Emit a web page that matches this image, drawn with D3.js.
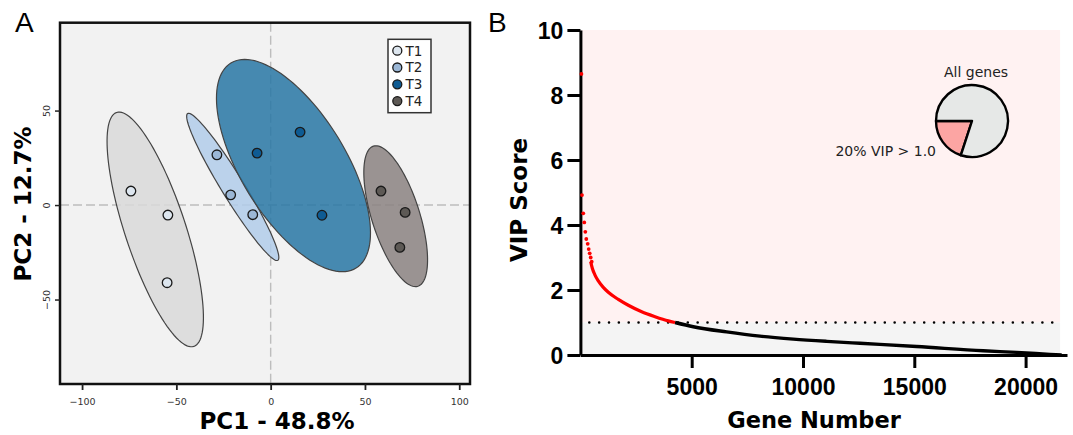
<!DOCTYPE html>
<html>
<head>
<meta charset="utf-8">
<title>PCA scores and VIP scores</title>
<script src="https://d3js.org/d3.v7.min.js"></script>
<style>
    body { margin: 0; background: white; }
    svg { display: block; }
    .tickA text { font-family: "DejaVu Sans", Verdana, sans-serif; font-size: 9.5px; fill: #333; }
    .tickB text { font-family: "Liberation Sans", Arial, sans-serif; font-size: 23px; font-weight: bold; fill: #000; }
    .title { font-family: "DejaVu Sans", Verdana, sans-serif; font-weight: bold; fill: #000; }
    .panel { font-family: "Liberation Sans", Arial, sans-serif; font-size: 28px; fill: #000; }
    .inset { font-family: "DejaVu Sans", Verdana, sans-serif; font-size: 14px; fill: #222; }
</style>
</head>
<body>
<div id="chart"></div>
<script>
// ---------- panel A : PCA scores ----------
var groups = ["T1", "T2", "T3", "T4"];
var pointGroup = ["T1", "T1", "T1", "T2", "T2", "T2", "T3", "T3", "T3", "T4", "T4", "T4"];
var pc1 = [-74.1, -54.5, -54.9, -28.5, -21.2, -9.5, -7.2, 15.6, 27.2, 58.5, 71.3, 68.5];
var pc2 = [7.4, -5.3, -41.1, 26.6, 5.4, -5.1, 27.5, 38.6, -5.4, 7.4, -3.9, -22.4];

// confidence ellipses (centre, semi axes, angle in degrees)
var ellCx = [-61.2, -20.1, 12.1, 66.3];
var ellCy = [-12.9, 9.6, 20.9, -5.9];
var ellA = [65.2, 45.6, 63.6, 38.9];
var ellB = [16.1, 6.0, 27.9, 12.7];
var ellAngle = [108.3, 121.6, 121.45, 107.65];

var pcaXTicks = [-100, -50, 0, 50, 100];
var pcaYTicks = [-50, 0, 50];

// ---------- panel B : VIP scores ----------
var topGene = [0, 27, 85, 130, 175, 220, 283, 328, 373, 418, 463];
var topScore = [8.65, 4.92, 4.36, 4.08, 3.79, 3.57, 3.42, 3.26, 3.13, 3.0, 2.87];
var highGene = [463, 535, 656, 804, 1029, 1253, 1703, 2152, 2754, 3351, 3949, 4250];
var highScore = [2.87, 2.67, 2.46, 2.28, 2.08, 1.93, 1.71, 1.53, 1.33, 1.18, 1.05, 1.0];
var lowGene = [4250, 5072, 6572, 8068, 9564, 11065, 12561, 15108, 18100, 19600, 21096, 21620];
var lowScore = [1.0, 0.87, 0.71, 0.58, 0.49, 0.42, 0.36, 0.26, 0.13, 0.08, 0.02, 0.0];
var geneCount = 21550;
var vipCut = 1.0;
var vipYTicks = [0, 2, 4, 6, 8, 10];
var vipXTicks = [5000, 10000, 15000, 20000];
var pieLabels = ["VIP > 1.0", "rest"];
var pieShare = [20, 80];

var fillColor = { T1: "#d9d9d9", T2: "#b2ccea", T3: "#2877a4", T4: "#8b8381" };
var dotColor = { T1: "#dde6ef", T2: "#9bb7d6", T3: "#0e5b93", T4: "#5d5955" };

var svg = d3.select("#chart").append("svg")
    .attr("width", 1073)
    .attr("height", 435);

// ================= panel A =================
var x = d3.scaleLinear().domain([-111.7, 105.7]).range([60, 470]);
var y = d3.scaleLinear().domain([-94.7, 96.5]).range([384, 22.7]);

var gA = svg.append("g");

gA.append("rect")
    .attr("x", x.range()[0]).attr("y", y.range()[1])
    .attr("width", x.range()[1] - x.range()[0])
    .attr("height", y.range()[0] - y.range()[1])
    .attr("fill", "#f2f2f2");

// zero lines
gA.append("line")
    .attr("x1", x(0)).attr("x2", x(0))
    .attr("y1", y.range()[1]).attr("y2", y.range()[0])
    .attr("stroke", "#bdbdbd").attr("stroke-width", 1.4).attr("stroke-dasharray", "9,4");
gA.append("line")
    .attr("x1", x.range()[0]).attr("x2", x.range()[1])
    .attr("y1", y(0)).attr("y2", y(0))
    .attr("stroke", "#bdbdbd").attr("stroke-width", 1.4).attr("stroke-dasharray", "9,4");

// ellipses
var steps = d3.range(0, 361, 3);
var ellLine = d3.line()
    .x(function(p) { return x(p[0]); })
    .y(function(p) { return y(p[1]); })
    .curve(d3.curveLinearClosed);

groups.forEach(function(g, i) {
    var phi = ellAngle[i] * Math.PI / 180;
    var pts = steps.map(function(s) {
        var t = s * Math.PI / 180;
        return [
            ellCx[i] + ellA[i] * Math.cos(phi) * Math.cos(t) - ellB[i] * Math.sin(phi) * Math.sin(t),
            ellCy[i] + ellA[i] * Math.sin(phi) * Math.cos(t) + ellB[i] * Math.cos(phi) * Math.sin(t)
        ];
    });
    gA.append("path")
        .attr("d", ellLine(pts))
        .attr("fill", fillColor[g])
        .attr("fill-opacity", 0.85)
        .attr("stroke", "#444")
        .attr("stroke-width", 1.2);
});

// points
gA.selectAll(".pt")
    .data(pc1)
    .enter()
    .append("circle")
    .attr("class", "pt")
    .attr("cx", function(d) { return x(d); })
    .attr("cy", function(d, i) { return y(pc2[i]); })
    .attr("r", 4.8)
    .attr("fill", function(d, i) { return dotColor[pointGroup[i]]; })
    .attr("stroke", "#1a1a1a")
    .attr("stroke-width", 1.3);

// frame
gA.append("rect")
    .attr("x", x.range()[0]).attr("y", y.range()[1])
    .attr("width", x.range()[1] - x.range()[0])
    .attr("height", y.range()[0] - y.range()[1])
    .attr("fill", "none")
    .attr("stroke", "#111")
    .attr("stroke-width", 2.5);

// axes
var axA = gA.append("g")
    .attr("class", "tickA")
    .attr("transform", "translate(0," + y.range()[0] + ")")
    .call(d3.axisBottom(x).tickValues(pcaXTicks).tickSize(6).tickSizeOuter(0));
axA.select(".domain").remove();
axA.selectAll("line").attr("stroke", "#222").attr("stroke-width", 1.8);
axA.selectAll("text").attr("y", 21).attr("dy", null);

var ayA = gA.append("g")
    .attr("class", "tickA")
    .attr("transform", "translate(" + x.range()[0] + ",0)")
    .call(d3.axisLeft(y).tickValues(pcaYTicks).tickSize(5).tickSizeOuter(0));
ayA.select(".domain").remove();
ayA.selectAll("line").attr("stroke", "#222").attr("stroke-width", 1.5);
ayA.selectAll("text")
    .attr("x", null).attr("dy", null)
    .attr("text-anchor", "middle")
    .attr("transform", "translate(-10,0) rotate(-90)");

// legend
var leg = gA.append("g");
leg.append("rect")
    .attr("x", 388).attr("y", 39.3)
    .attr("width", 43).attr("height", 73.4)
    .attr("fill", "white").attr("stroke", "#333").attr("stroke-width", 1.5);
groups.forEach(function(g, i) {
    leg.append("circle")
        .attr("cx", 397.3).attr("cy", 50.7 + i * 16.8)
        .attr("r", 4.5)
        .attr("fill", dotColor[g]).attr("stroke", "#1a1a1a").attr("stroke-width", 1.3);
    leg.append("text")
        .attr("x", 405.5).attr("y", 55.6 + i * 16.8)
        .attr("font-family", "DejaVu Sans, Verdana, sans-serif")
        .attr("font-size", "13.5px").attr("fill", "#222")
        .text(g);
});

gA.append("text")
    .attr("class", "title")
    .attr("x", 277).attr("y", 429)
    .attr("text-anchor", "middle")
    .style("font-size", "23px")
    .text("PC1 - 48.8%");
gA.append("text")
    .attr("class", "title")
    .attr("transform", "translate(31,204) rotate(-90)")
    .attr("text-anchor", "middle")
    .style("font-size", "23px")
    .text("PC2 - 12.7%");

svg.append("text").attr("class", "panel").attr("x", 15).attr("y", 32).text("A");
svg.append("text").attr("class", "panel").attr("x", 488).attr("y", 32).text("B");

// ================= panel B =================
var xv = d3.scaleLinear().domain([0, 21860]).range([580.4, 1067]);
var yv = d3.scaleLinear().domain([0, 10]).range([355, 30]);

var gB = svg.append("g");

gB.append("rect")
    .attr("x", xv(0)).attr("y", yv(10))
    .attr("width", xv(geneCount) - xv(0))
    .attr("height", yv(vipCut) - yv(10))
    .attr("fill", "#fff2f2");
gB.append("rect")
    .attr("x", xv(0)).attr("y", yv(vipCut))
    .attr("width", xv(geneCount) - xv(0))
    .attr("height", yv(0) - yv(vipCut))
    .attr("fill", "#f4f4f4");

// threshold
gB.append("line")
    .attr("x1", xv(400)).attr("x2", xv(21420))
    .attr("y1", yv(vipCut)).attr("y2", yv(vipCut))
    .attr("stroke", "#000").attr("stroke-width", 2.6)
    .attr("stroke-linecap", "round")
    .attr("stroke-dasharray", "0,9.85");

var vipLine = d3.line()
    .x(function(d) { return xv(d[0]); })
    .y(function(d) { return yv(d[1]); })
    .curve(d3.curveMonotoneX);

gB.append("path")
    .datum(lowGene.map(function(g, i) { return [g, lowScore[i]]; }))
    .attr("d", vipLine)
    .attr("fill", "none").attr("stroke", "#000").attr("stroke-width", 3.4);
gB.append("path")
    .datum(highGene.map(function(g, i) { return [g, highScore[i]]; }))
    .attr("d", vipLine)
    .attr("fill", "none").attr("stroke", "#f00").attr("stroke-width", 3.2);

// axes
var axB = gB.append("g")
    .attr("class", "tickB")
    .attr("transform", "translate(0," + yv(0) + ")")
    .call(d3.axisBottom(xv).tickValues(vipXTicks).tickFormat(d3.format("d")).tickSize(13).tickSizeOuter(0));
axB.selectAll("line, path").attr("stroke", "#000").attr("stroke-width", 3);
axB.selectAll("text").attr("y", 40).attr("dy", null);

var ayB = gB.append("g")
    .attr("class", "tickB")
    .attr("transform", "translate(" + xv(0) + ",0)")
    .call(d3.axisLeft(yv).tickValues(vipYTicks).tickSize(13).tickPadding(4).tickSizeOuter(0));
ayB.selectAll("line, path").attr("stroke", "#000").attr("stroke-width", 3);
ayB.selectAll("text").attr("dy", "0.36em");

// highest scoring genes, drawn over the axis line
gB.selectAll(".top")
    .data(topGene)
    .enter()
    .append("circle")
    .attr("class", "top")
    .attr("cx", function(d) { return xv(d) + 1; })
    .attr("cy", function(d, i) { return yv(topScore[i]); })
    .attr("r", 1.9)
    .attr("fill", "#f00");

gB.append("text")
    .attr("class", "title")
    .attr("x", 814).attr("y", 428)
    .attr("text-anchor", "middle")
    .style("font-size", "22.5px")
    .text("Gene Number");
gB.append("text")
    .attr("class", "title")
    .attr("transform", "translate(527,200) rotate(-90)")
    .attr("text-anchor", "middle")
    .style("font-size", "23px")
    .text("VIP Score");

// pie inset
var pieStart = 198 * Math.PI / 180;
var pie = d3.pie().sort(null).startAngle(pieStart).endAngle(pieStart + 2 * Math.PI);
var arc = d3.arc().innerRadius(0).outerRadius(36);
var pieG = gB.append("g").attr("transform", "translate(972,121)");
pieG.selectAll("path")
    .data(pie(pieShare))
    .enter()
    .append("path")
    .attr("d", arc)
    .attr("fill", function(d, i) { return i === 0 ? "#fca5a3" : "#e6e8e7"; })
    .attr("stroke", "#000")
    .attr("stroke-width", 2.4)
    .attr("stroke-linejoin", "round");

gB.append("text").attr("class", "inset")
    .attr("x", 976).attr("y", 77).attr("text-anchor", "middle")
    .text("All genes");
gB.append("text").attr("class", "inset")
    .attr("x", 936).attr("y", 156).attr("text-anchor", "end")
    .text(pieShare[0] + "% " + pieLabels[0]);
</script>
</body>
</html>
